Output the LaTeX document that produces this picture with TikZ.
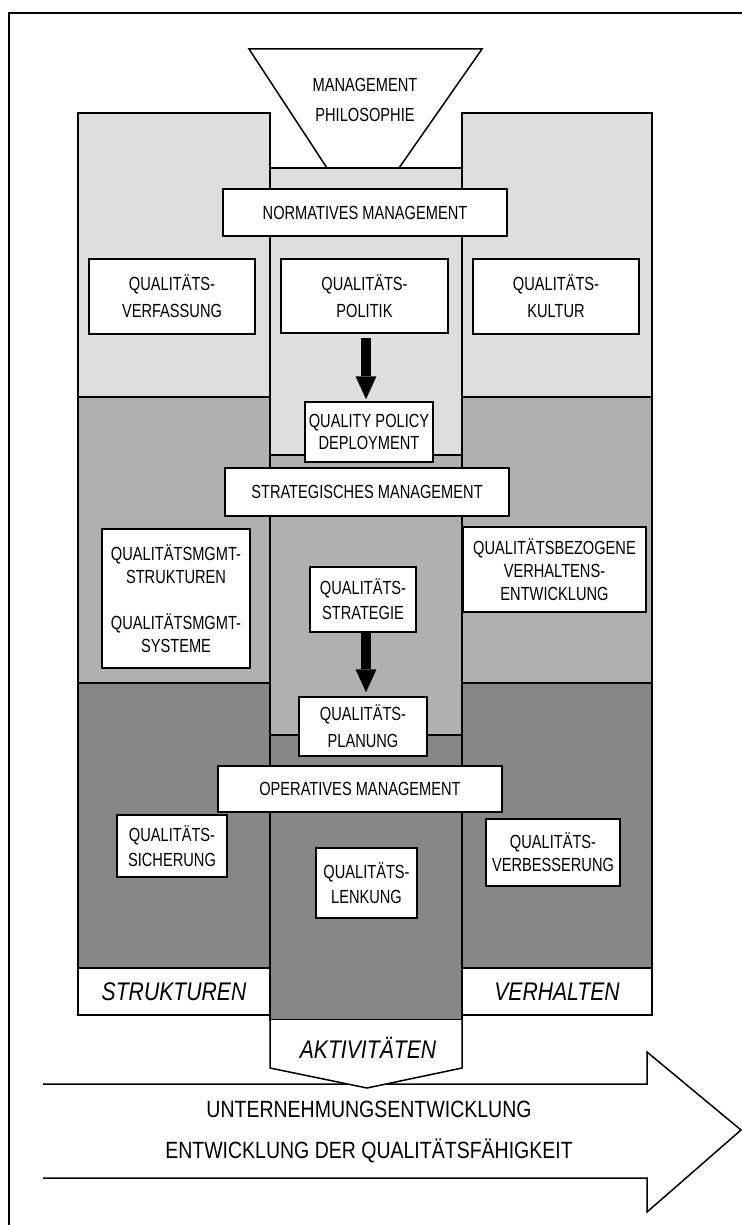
\documentclass[tikz,border=0pt]{standalone}
\usepackage{fontspec}
\setmainfont{Liberation Sans}[FakeStretch=0.77]
\newfontfamily\widesans{Liberation Sans}[FakeStretch=0.83]
\usetikzlibrary{arrows.meta}
\definecolor{tierlight}{gray}{0.87}
\definecolor{tiermid}{gray}{0.69}
\definecolor{tierdark}{gray}{0.53}

\begin{document}
\begin{tikzpicture}[x=1pt,y=-1pt,line width=1.5pt,
  box/.style={draw=black,fill=white,line width=1.5pt,align=center,inner sep=0pt,
    font=\fontsize{19}{25}\selectfont},
  label/.style={inner sep=0pt,align=center,font=\fontsize{19}{30}\selectfont},
  pillar/.style={box,font=\widesans\fontsize{25.5}{30}\selectfont\itshape},
  flowarrow/.style={line width=10pt,
    -{Triangle[width={21pt 0},length={23pt 0},line width=0pt]}}
]
\useasboundingbox (0,0) rectangle (741,1225);

% outer frame
\draw (9,1235) -- (9,13) -- (750,13);

% left column: structures
\draw[fill=tierlight] (78,113) rectangle (270,397);
\draw[fill=tiermid]   (78,397) rectangle (270,683);
\draw[fill=tierdark]  (78,683) rectangle (270,968);
% right column: behaviour
\draw[fill=tierlight] (462,113) rectangle (652,397);
\draw[fill=tiermid]   (462,397) rectangle (652,683);
\draw[fill=tierdark]  (462,683) rectangle (652,968);
% centre column: activities
\draw[fill=tierlight] (270,168) rectangle (462,455);
\draw[fill=tiermid]   (270,455) rectangle (462,735);
\draw[fill=tierdark]  (270,735) rectangle (462,1020);

% management philosophy funnel
\draw[fill=white] (249,49) -- (482,49) -- (399,168) -- (327,168) -- cycle;
\node[label] (philo) at (365,100) {MANAGEMENT\\PHILOSOPHIE};

% development arrow
\draw[fill=white] (43,1084) -- (647,1084) -- (647,1052) -- (741,1130)
  -- (647,1212) -- (647,1178) -- (43,1178);
\node[label,font=\widesans\fontsize{23.5}{41}\selectfont] (dev) at (369,1132)
  {UNTERNEHMUNGSENTWICKLUNG\\ENTWICKLUNG DER QUALITÄTSFÄHIGKEIT};

% activities pointer
\draw[fill=white] (270,1020) -- (270,1068) -- (367,1088) -- (462,1068) -- (462,1020);
\node[inner sep=0pt,font=\widesans\fontsize{25.5}{30}\selectfont\itshape] (akt) at (368,1048) {AKTIVITÄTEN};

% pillar labels
\node[pillar,minimum width=192pt,minimum height=47pt] (struk) at (174,991.5) {STRUKTUREN};
\node[pillar,minimum width=190pt,minimum height=47pt] (verh) at (557,991.5) {VERHALTEN};

% normative level
\node[box,minimum width=284pt,minimum height=47pt] (norm) at (365,212.5) {NORMATIVES MANAGEMENT};
\node[box,minimum width=166pt,minimum height=75pt,font=\fontsize{19}{27}\selectfont] (verf) at (172,296.5) {QUALITÄTS-\\VERFASSUNG};
\node[box,minimum width=167pt,minimum height=74pt,font=\fontsize{19}{27}\selectfont] (polit) at (364.5,296) {QUALITÄTS-\\POLITIK};
\node[box,minimum width=166pt,minimum height=75pt,font=\fontsize{19}{27}\selectfont] (kult) at (556,296.5) {QUALITÄTS-\\KULTUR};
\node[box,minimum width=128pt,minimum height=60pt,font=\fontsize{19}{22}\selectfont] (qpd) at (369,432) {QUALITY POLICY\\DEPLOYMENT};

% strategic level
\node[box,minimum width=284pt,minimum height=48pt] (strat) at (367,492) {STRATEGISCHES MANAGEMENT};
\node[box,minimum width=148pt,minimum height=139pt,font=\fontsize{19}{23}\selectfont] (qmgmt) at (176,598.5)
  {QUALITÄTSMGMT-\\STRUKTUREN\\[23pt]QUALITÄTSMGMT-\\SYSTEME};
\node[box,minimum width=183pt,minimum height=85pt,font=\fontsize{19}{23}\selectfont] (qbez) at (554.5,569.5)
  {QUALITÄTSBEZOGENE\\VERHALTENS-\\ENTWICKLUNG};
\node[box,minimum width=106pt,minimum height=65pt] (qstrat) at (363,599.5) {QUALITÄTS-\\STRATEGIE};
\node[box,minimum width=128pt,minimum height=59pt,font=\fontsize{19}{27}\selectfont] (qplan) at (363,726.5) {QUALITÄTS-\\PLANUNG};

% operative level
\node[box,minimum width=284pt,minimum height=46pt] (oper) at (360,789) {OPERATIVES MANAGEMENT};
\node[box,minimum width=110pt,minimum height=62pt] (sich) at (172,846) {QUALITÄTS-\\SICHERUNG};
\node[box,minimum width=101pt,minimum height=70pt] (lenk) at (366.5,883) {QUALITÄTS-\\LENKUNG};
\node[box,minimum width=134pt,minimum height=67pt,font=\fontsize{19}{23}\selectfont] (verb) at (553,852.5) {QUALITÄTS-\\VERBESSERUNG};

% deployment arrows
\draw[flowarrow,shorten <=4pt,shorten >=2pt] (polit.south -| 366,0) -- (qpd.north -| 366,0);
\draw[flowarrow,shorten >=4pt] (qstrat.south -| 366,0) -- (qplan.north -| 366,0);
\end{tikzpicture}
\end{document}
